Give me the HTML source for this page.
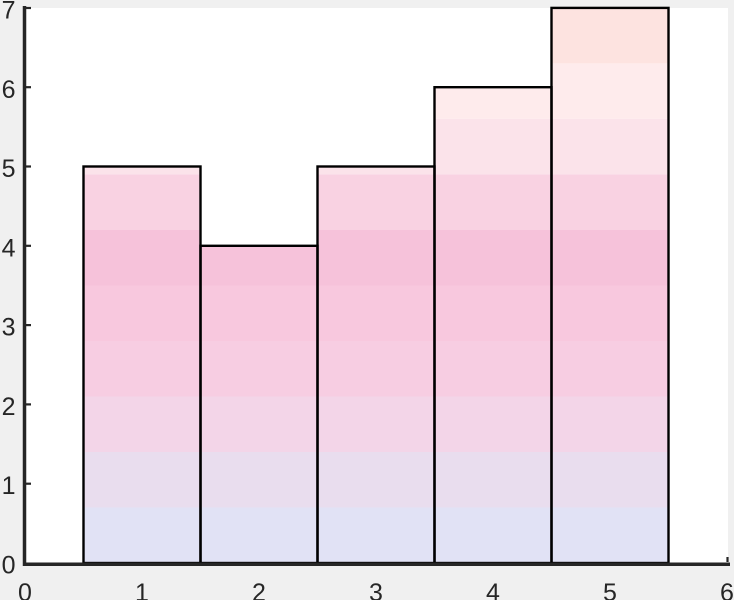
<!DOCTYPE html>
<html>
<head>
<meta charset="utf-8">
<style>
html,body{margin:0;padding:0;background:#f0f0f0;}
svg{display:block;}
text{font-family:"Liberation Sans",Arial,sans-serif;font-size:25px;fill:#262626;}
</style>
</head>
<body>
<svg width="734" height="600" viewBox="0 0 734 600" xmlns="http://www.w3.org/2000/svg">
<rect x="0" y="0" width="734" height="600" fill="#f0f0f0"/>
<rect x="25" y="8" width="703" height="556" fill="#ffffff"/>
<defs>
<clipPath id="bars">
<rect x="83.5" y="166.5" width="117" height="396.5"/>
<rect x="200.5" y="245.8" width="117" height="317.2"/>
<rect x="317.5" y="166.5" width="117" height="396.5"/>
<rect x="434.5" y="87.2" width="117" height="475.8"/>
<rect x="551.5" y="7.9" width="117" height="555.1"/>
</clipPath>
</defs>
<g clip-path="url(#bars)">
<rect x="83" y="507.5" width="586" height="56" fill="#e1e2f5"/>
<rect x="83" y="452" width="586" height="55.5" fill="#e9ddee"/>
<rect x="83" y="396.5" width="586" height="55.5" fill="#f3d5e8"/>
<rect x="83" y="341" width="586" height="55.5" fill="#f7cde2"/>
<rect x="83" y="285.5" width="586" height="55.5" fill="#f8c8de"/>
<rect x="83" y="230" width="586" height="55.5" fill="#f6c2da"/>
<rect x="83" y="174.4" width="586" height="55.6" fill="#f9d2e2"/>
<rect x="83" y="118.9" width="586" height="55.5" fill="#fbe3ea"/>
<rect x="83" y="63.4" width="586" height="55.5" fill="#feebec"/>
<rect x="83" y="7" width="586" height="56.4" fill="#fde3e0"/>
</g>
<g fill="none" stroke="#000" stroke-width="2.4">
<rect x="83.5" y="166.5" width="117" height="396.5"/>
<rect x="200.5" y="245.8" width="117" height="317.2"/>
<rect x="317.5" y="166.5" width="117" height="396.5"/>
<rect x="434.5" y="87.2" width="117" height="475.8"/>
<rect x="551.5" y="7.9" width="117" height="555.1"/>
</g>
<!-- axes -->
<g stroke="#262626">
<line x1="24.5" y1="6" x2="24.5" y2="566" stroke-width="3.5"/>
<line x1="23" y1="564.2" x2="730" y2="564.2" stroke-width="3.5"/>
<g stroke-width="2.2">
<line x1="26" y1="8" x2="31" y2="8"/>
<line x1="26" y1="87.2" x2="31" y2="87.2"/>
<line x1="26" y1="166.5" x2="31" y2="166.5"/>
<line x1="26" y1="245.8" x2="31" y2="245.8"/>
<line x1="26" y1="325.1" x2="31" y2="325.1"/>
<line x1="26" y1="404.4" x2="31" y2="404.4"/>
<line x1="26" y1="483.7" x2="31" y2="483.7"/>
<line x1="727.5" y1="562" x2="727.5" y2="557"/>
</g>
</g>
<!-- y labels -->
<g text-anchor="end">
<text x="15.5" y="18.5">7</text>
<text x="15.5" y="97.8">6</text>
<text x="15.5" y="177">5</text>
<text x="15.5" y="256.3">4</text>
<text x="15.5" y="335.6">3</text>
<text x="15.5" y="414.9">2</text>
<text x="15.5" y="494.2">1</text>
<text x="15.5" y="573.5">0</text>
</g>
<!-- x labels -->
<g text-anchor="middle">
<text x="25" y="601">0</text>
<text x="142" y="601">1</text>
<text x="259" y="601">2</text>
<text x="376" y="601">3</text>
<text x="493" y="601">4</text>
<text x="610" y="601">5</text>
<text x="727" y="601">6</text>
</g>
</svg>
</body>
</html>
